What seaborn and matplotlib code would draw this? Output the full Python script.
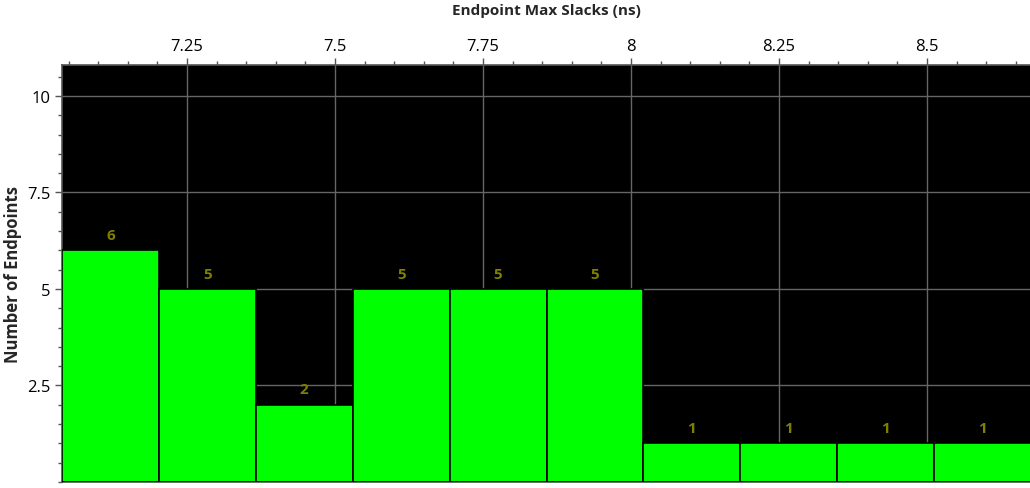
import numpy as np
import pandas as pd
import matplotlib
matplotlib.use("Agg")
import matplotlib.pyplot as plt
from matplotlib.ticker import MultipleLocator, FuncFormatter
import seaborn as sns

# ---- data ----
bin_start = 7.039
bin_width = 0.1637
counts = [6, 5, 2, 5, 5, 5, 1, 1, 1, 1]
x_ticks = [7.25, 7.5, 7.75, 8.0, 8.25, 8.5]
y_ticks = [2.5, 5, 7.5, 10]
x_label = "Endpoint Max Slacks (ns)"
y_label = "Number of Endpoints"

edges = bin_start + bin_width * np.arange(len(counts) + 1)
centers = (edges[:-1] + edges[1:]) / 2
df = pd.DataFrame({"slack": centers, "count": counts})

sns.set_theme(style="white")
plt.rcParams["font.family"] = ["Open Sans", "DejaVu Sans"]

fig = plt.figure(figsize=(10.30, 4.89), dpi=100)
ax = fig.add_axes([62/1030, 1 - 483/489, (1030 - 62)/1030, (483 - 66)/489])
ax.set_facecolor("black")

sns.histplot(data=df, x="slack", weights="count", bins=len(counts),
             binrange=(float(edges[0]), float(edges[-1])), ax=ax,
             color="#00ff00", alpha=1, edgecolor="black", linewidth=1.2,
             zorder=3)

ax.set_xlim(bin_start, bin_start + (1030 - 62) / 592)
ax.set_ylim(0, 10.8)

ax.xaxis.tick_top()
ax.xaxis.set_label_position("top")
ax.set_xticks(x_ticks)
ax.xaxis.set_minor_locator(MultipleLocator(0.05))
ax.xaxis.set_major_formatter(FuncFormatter(lambda v, p: f"{v:g}"))
ax.set_yticks(y_ticks)
ax.yaxis.set_minor_locator(MultipleLocator(0.5))
ax.yaxis.set_major_formatter(FuncFormatter(lambda v, p: f"{v:g}"))

ax.tick_params(axis="both", which="major", length=5, width=1, color="#555555",
               labelsize=12, labelcolor="black", direction="out")
ax.tick_params(axis="both", which="minor", length=3, width=1, color="#555555",
               direction="out")
ax.tick_params(axis="x", which="both", top=True, bottom=False, pad=3)
ax.tick_params(axis="y", which="both", left=True, right=False, pad=3)

ax.grid(True, which="major", color="#666666", linewidth=1, zorder=0)
ax.set_axisbelow(True)

for side in ["left", "top", "bottom"]:
    ax.spines[side].set_color("#555555")
    ax.spines[side].set_linewidth(1.2)
ax.spines["right"].set_visible(False)

ax.set_xlabel(x_label, fontsize=11, fontweight="bold", labelpad=17)
ax.set_ylabel(y_label, fontsize=12, fontweight="bold")
ax.yaxis.label.set_va("center")
ax.yaxis.set_label_coords(-49/968, 0.5)

ax.bar_label(ax.containers[0], labels=[str(c) for c in counts],
             padding=6, color="#808000", fontsize=11, fontweight="bold")

fig.savefig("out.png", dpi=100)
